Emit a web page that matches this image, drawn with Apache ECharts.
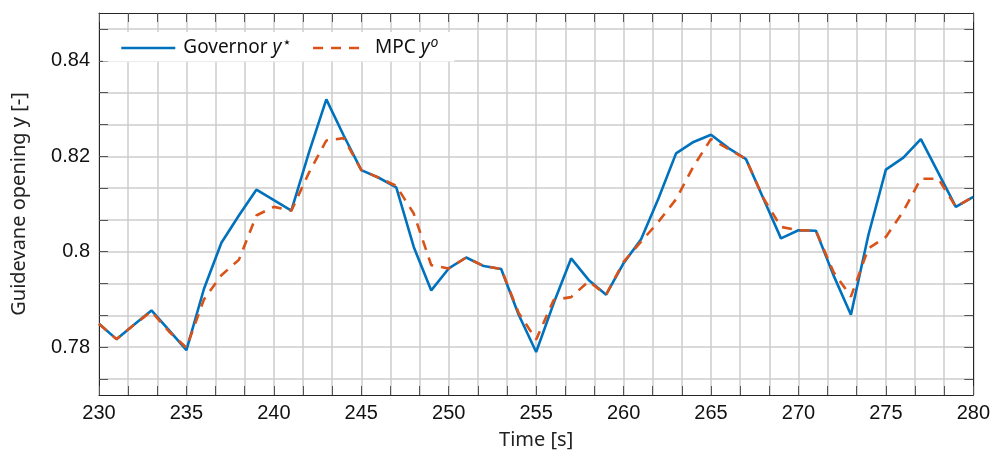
<!DOCTYPE html>
<html>
<head>
<meta charset="utf-8">
<script src="https://cdn.jsdelivr.net/npm/echarts@6/dist/echarts.min.js"></script>
<style>
html,body{margin:0;padding:0;background:#fff;}
#chart{width:993px;height:455px;}
</style>
</head>
<body>
<div id="chart"></div>
<script>
// ---- data ----
var times = [230,231,232,233,234,235,236,237,238,239,240,241,242,243,244,245,246,247,248,249,250,
             251,252,253,254,255,256,257,258,259,260,261,262,263,264,265,266,267,268,269,270,
             271,272,273,274,275,276,277,278,279,280];
var governor = [0.7849,0.7817,0.7847,0.7877,0.7836,0.7794,0.7922,0.8019,0.8076,0.8130,0.8108,
                0.8086,0.8207,0.8319,0.8243,0.8171,0.8155,0.8135,0.8010,0.7919,0.7965,
                0.7988,0.7970,0.7964,0.7868,0.7790,0.7892,0.7986,0.7941,0.7910,0.7976,
                0.8026,0.8112,0.8206,0.8230,0.8245,0.8217,0.8194,0.8111,0.8028,0.8045,
                0.8044,0.7951,0.7868,0.8035,0.8172,0.8197,0.8236,0.8165,0.8094,0.8115];
var mpc = [0.7849,0.7817,0.7847,0.7875,0.7833,0.7799,0.7900,0.7951,0.7983,0.8076,0.8094,
           0.8086,0.8165,0.8233,0.8238,0.8171,0.8155,0.8138,0.8080,0.7972,0.7965,
           0.7988,0.7970,0.7964,0.7872,0.7816,0.7899,0.7905,0.7938,0.7910,0.7979,
           0.8021,0.8063,0.8110,0.8179,0.8236,0.8215,0.8194,0.8112,0.8052,0.8045,
           0.8044,0.7958,0.7906,0.8007,0.8031,0.8085,0.8153,0.8153,0.8094,0.8115];
var seriesNames = ['Governor', 'MPC'];
var xTickLabels = [230,235,240,245,250,255,260,265,270,275,280];
var yTickLabels = [0.78,0.80,0.82,0.84];
var xRange = [230, 280];
var yRange = [0.77, 0.85];
// minor grid/tick positions: three subdivisions per labelled step
var xMinor = [];
for (var i = 0; i <= 30; i++) xMinor.push(+(230 + i * 5 / 3).toFixed(6));
var yMinor = [];
for (var j = -1; j <= 10; j++) yMinor.push(+(0.78 + j * 0.02 / 3).toFixed(8));
yMinor = yMinor.filter(function (v) { return v > 0.77 && v < 0.85; });

// ---- chart ----
var chart = echarts.init(document.getElementById('chart'), null, {renderer: 'canvas'});
var numFont = "'Liberation Sans', Arial, sans-serif";
var txtFont = "'Noto Sans', 'Open Sans', sans-serif";
var gridLine = {show: true, lineStyle: {color: '#cdcdcd', width: 1.5}};
var tickStyle = {color: '#555555', width: 1};

function pairs(ys) { return times.map(function (t, k) { return [t, ys[k]]; }); }

var option = {
  animation: false,
  backgroundColor: '#ffffff',
  grid: {left: 99, right: 18, top: 13, bottom: 59, containLabel: false},
  legend: {
    data: seriesNames,
    left: 103, top: 32,
    orient: 'horizontal',
    backgroundColor: '#ffffff',
    padding: [4, 16, 4, 17],
    itemWidth: 54, itemHeight: 18,
    itemGap: 20,
    itemStyle: {opacity: 0},
    lineStyle: {width: 2.6},
    formatter: function (name) {
      return name === seriesNames[0]
        ? '{t|Governor }{i|y}{s|\u22C6}'
        : '{t|MPC }{i|y}{o|o}';
    },
    textStyle: {
      padding: [0, 0, 0, 3],
      rich: {
        t: {fontFamily: txtFont, fontSize: 19, color: '#111'},
        i: {fontFamily: txtFont, fontSize: 19, fontStyle: 'italic', color: '#111'},
        s: {fontFamily: 'DejaVu Sans', fontSize: 15, color: '#111', verticalAlign: 'top', padding: [0, 0, 9, 1]},
        o: {fontFamily: txtFont, fontSize: 14, fontStyle: 'italic', color: '#111', verticalAlign: 'top', padding: [0, 0, 9, 1]}
      }
    }
  },
  xAxis: [{
    type: 'value', min: xRange[0], max: xRange[1], position: 'bottom',
    name: 'Time [s]', nameLocation: 'middle', nameGap: 35,
    nameTextStyle: {fontFamily: txtFont, fontSize: 20, color: '#222'},
    axisLine: {show: true, lineStyle: {color: '#262626', width: 1}},
    axisTick: {show: true, inside: true, length: 9, customValues: xMinor, lineStyle: tickStyle},
    axisLabel: {show: true, customValues: xTickLabels, fontFamily: numFont, fontSize: 20, color: '#111', margin: 8},
    splitLine: gridLine
  }, {
    type: 'value', min: xRange[0], max: xRange[1], position: 'top',
    axisLine: {show: true, lineStyle: {color: '#262626', width: 1}},
    axisTick: {show: true, inside: true, length: 9, customValues: xMinor, lineStyle: tickStyle},
    axisLabel: {show: false},
    splitLine: {show: false}
  }],
  yAxis: [{
    type: 'value', min: yRange[0], max: yRange[1], position: 'left',
    name: 'Guidevane opening y [-]', nameLocation: 'middle', nameGap: 70, nameRotate: 90,
    nameTextStyle: {fontFamily: txtFont, fontSize: 20, color: '#222'},
    axisLine: {show: true, lineStyle: {color: '#262626', width: 1}},
    axisTick: {show: true, inside: true, length: 9, customValues: yMinor, lineStyle: tickStyle},
    axisLabel: {show: true, customValues: yTickLabels, fontFamily: numFont, fontSize: 20, color: '#111', margin: 9,
      formatter: function (v) { return String(+v.toFixed(4)); }},
    splitLine: gridLine
  }, {
    type: 'value', min: yRange[0], max: yRange[1], position: 'right',
    axisLine: {show: true, lineStyle: {color: '#262626', width: 1}},
    axisTick: {show: true, inside: true, length: 9, customValues: yMinor, lineStyle: tickStyle},
    axisLabel: {show: false},
    splitLine: {show: false}
  }],
  series: [{
    name: seriesNames[0], type: 'line', data: pairs(governor),
    xAxisIndex: 0, yAxisIndex: 0,
    showSymbol: false, symbol: 'none',
    lineStyle: {color: '#0072BD', width: 2.6},
    itemStyle: {color: '#0072BD'},
    z: 3
  }, {
    name: seriesNames[1], type: 'line', data: pairs(mpc),
    xAxisIndex: 0, yAxisIndex: 0,
    showSymbol: false, symbol: 'none',
    lineStyle: {color: '#D95319', width: 2.6, type: [10, 8]},
    itemStyle: {color: '#D95319'},
    z: 4
  }]
};
chart.setOption(option);
</script>
</body>
</html>
